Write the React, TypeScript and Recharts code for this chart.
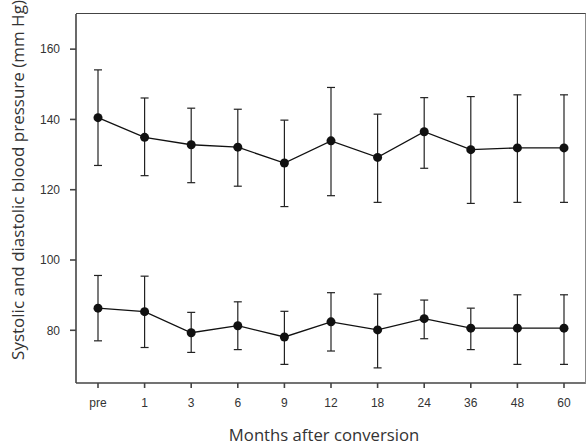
import {
  ErrorBar,
  Label,
  Line,
  LineChart,
  XAxis,
  YAxis,
} from "recharts";

const months = ["pre", "1", "3", "6", "9", "12", "18", "24", "36", "48", "60"];

const systolic = [140.5, 134.9, 132.8, 132.1, 127.6, 133.9, 129.2, 136.5, 131.4, 131.9, 131.9];
const systolicLow = [126.9, 124.0, 122.0, 121.0, 115.2, 118.3, 116.4, 126.1, 116.1, 116.4, 116.4];
const systolicHigh = [154.1, 146.1, 143.2, 142.9, 139.8, 149.1, 141.5, 146.2, 146.5, 147.0, 147.0];

const diastolic = [86.3, 85.3, 79.3, 81.3, 78.1, 82.4, 80.1, 83.3, 80.6, 80.6, 80.6];
const diastolicLow = [77.0, 75.1, 73.7, 74.5, 70.3, 74.1, 69.3, 77.6, 74.5, 70.3, 70.3];
const diastolicHigh = [95.6, 95.4, 85.1, 88.1, 85.4, 90.7, 90.3, 88.6, 86.3, 90.1, 90.1];

const yTicks = [80, 100, 120, 140, 160];

const data = months.map((m, i) => ({
  month: m,
  sys: systolic[i],
  sysErr: [systolic[i] - systolicLow[i], systolicHigh[i] - systolic[i]],
  dia: diastolic[i],
  diaErr: [diastolic[i] - diastolicLow[i], diastolicHigh[i] - diastolic[i]],
}));

const ink = "#111";
const axisColor = "#444";
const tickStyle = { fontSize: 12, fill: "#333", fontFamily: "Liberation Sans, Arial, sans-serif" };
const titleFont = "'Open Sans', sans-serif";

export default function App() {
  return (
    <div style={{ position: "relative", width: 588, height: 446, background: "#fff" }}>
      <style>{`body { margin: 0; }`}</style>
      <LineChart
        width={588}
        height={446}
        data={data}
        margin={{ top: 14, right: 3, bottom: 0, left: 36 }}
      >
        <XAxis
          dataKey="month"
          padding={{ left: 22, right: 21 }}
          height={63}
          stroke={axisColor}
          strokeWidth={1.6}
          tickSize={5}
          tickMargin={10}
          tick={tickStyle}
          interval={0}
        >
          <Label
            content={() => (
              <text x={324} y={441} textAnchor="middle" fontSize={16.7} fontFamily={titleFont} fill="#333">
                Months after conversion
              </text>
            )}
          />
        </XAxis>
        <YAxis
          domain={[65, 170]}
          ticks={yTicks}
          width={40}
          stroke={axisColor}
          strokeWidth={1.6}
          tickSize={6}
          tickMargin={10}
          tick={tickStyle}
        >
          <Label
            content={() => (
              <text
                x={0}
                y={0}
                transform="translate(24, 180) rotate(-90)"
                textAnchor="middle"
                fontSize={17}
                fontFamily={titleFont}
                fill="#333"
              >
                Systolic and diastolic blood pressure (mm Hg)
              </text>
            )}
          />
        </YAxis>
        <Line
          dataKey="sys"
          stroke={ink}
          strokeWidth={1.3}
          dot={{ r: 4.5, fill: ink, stroke: ink, strokeWidth: 0 }}
          isAnimationActive={false}
        >
          <ErrorBar dataKey="sysErr" width={4} stroke="#222" strokeWidth={1.2} direction="y" isAnimationActive={false} />
        </Line>
        <Line
          dataKey="dia"
          stroke={ink}
          strokeWidth={1.3}
          dot={{ r: 4.5, fill: ink, stroke: ink, strokeWidth: 0 }}
          isAnimationActive={false}
        >
          <ErrorBar dataKey="diaErr" width={4} stroke="#222" strokeWidth={1.2} direction="y" isAnimationActive={false} />
        </Line>
      </LineChart>
      {/* plot frame: top and right edges */}
      <div
        style={{
          position: "absolute",
          left: 76,
          top: 13,
          width: 509,
          height: 370,
          borderTop: "1.5px solid #444",
          borderRight: "1px solid #888",
          pointerEvents: "none",
        }}
      />
    </div>
  );
}
